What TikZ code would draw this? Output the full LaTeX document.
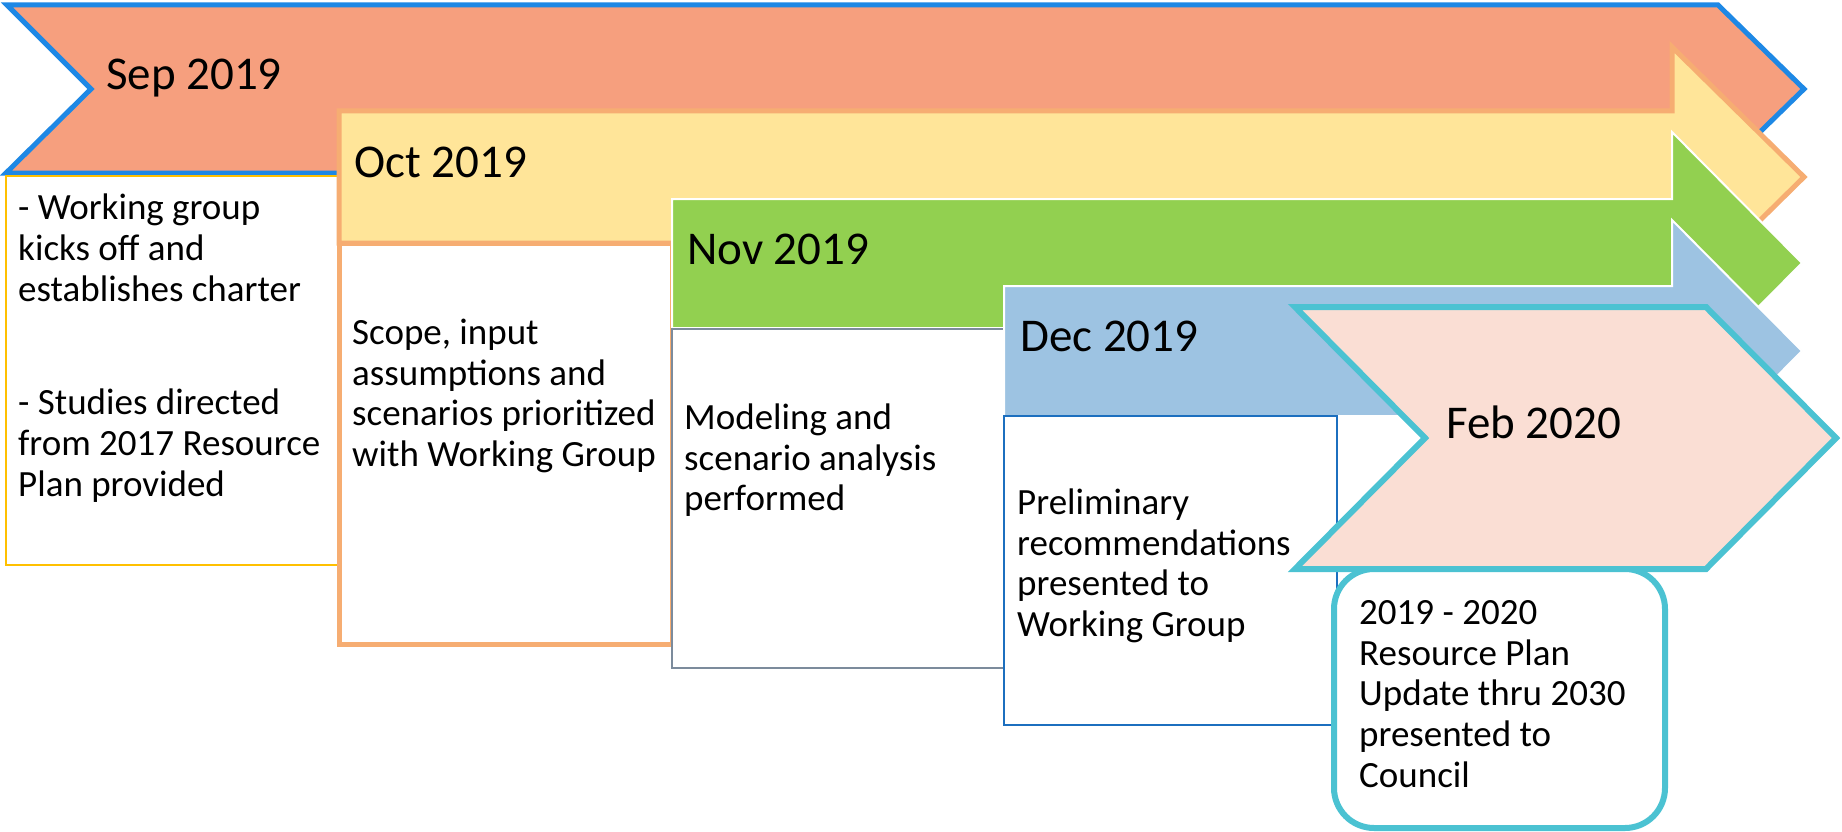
\documentclass[tikz,border=0pt]{standalone}
\usepackage{fontspec}
\setmainfont{Carlito}
\definecolor{sepfill}{HTML}{F69F7E}
\definecolor{sepline}{HTML}{1E88E5}
\definecolor{octfill}{HTML}{FFE599}
\definecolor{octline}{HTML}{F6AD72}
\definecolor{novfill}{HTML}{92D050}
\definecolor{decfill}{HTML}{9DC3E2}
\definecolor{febfill}{HTML}{FADED4}
\definecolor{febline}{HTML}{4BC2D2}
\definecolor{sepbox}{HTML}{FFC000}
\definecolor{novbox}{HTML}{7C8B9C}
\definecolor{decbox}{HTML}{1C6FBF}
\tikzset{
  lbl/.style={anchor=base west, inner sep=0pt, font=\fontsize{47}{50}\selectfont},
  body/.style={anchor=north west, inner sep=0pt, align=left, font=\fontsize{37}{40.8}\selectfont},
  band/.style={line join=miter},
  infobox/.style={fill=white, line join=miter},
}
\begin{document}
\begin{tikzpicture}[x=1pt,y=-1pt]
\useasboundingbox (0,0) rectangle (1842,832);
\fill[white] (0,0) rectangle (1842,832);
% Sep
\draw[band, fill=sepfill, draw=sepline, line width=5pt]
  (7,5) -- (1718,5) -- (1804,89) -- (1718,173) -- (6,173) -- (91,89) -- cycle;
\draw[infobox, draw=sepbox, line width=2pt] (6,176) rectangle (338,565);
% Oct
\draw[band, fill=octfill, draw=octline, line width=5pt]
  (339,111) -- (1672,111) -- (1672,47) -- (1804,177) -- (1672,307) -- (1672,243) -- (339,243) -- cycle;
\draw[infobox, draw=octline, line width=5pt] (339,243) rectangle (672,644);
% Nov
\draw[band, fill=novfill, draw=white, line width=2pt]
  (672,199) -- (1672,199) -- (1672,132) -- (1802,263) -- (1672,394) -- (1672,328) -- (672,328) -- cycle;
\draw[infobox, draw=novbox, line width=2pt] (672,329) rectangle (1004,668);
% Dec
\draw[band, fill=decfill, draw=white, line width=2pt]
  (1004,286) -- (1672,286) -- (1672,220) -- (1802,351) -- (1672,482) -- (1672,416) -- (1004,416) -- cycle;
\draw[infobox, draw=decbox, line width=2pt] (1004,416) rectangle (1337,725);
% Feb
\draw[band, fill=febfill, draw=febline, line width=6pt]
  (1295,307) -- (1706,307) -- (1836,438) -- (1706,569) -- (1295,569) -- (1425,438) -- cycle;
\draw[infobox, draw=febline, line width=6pt, rounded corners=40pt] (1334,569) rectangle (1665,828);
% labels
\node[lbl] (sep) at (106,90) {Sep 2019};
\node[lbl] (oct) at (354,177) {Oct 2019};
\node[lbl] (nov) at (687,264) {Nov 2019};
\node[lbl] (dec) at (1020,351) {Dec 2019};
\node[lbl] (feb) at (1446,438) {Feb 2020};
% texts
\node[body] (septxtA) at (18,191) {\strut- Working group\\kicks off and\\establishes charter};
\node[body] (septxtB) at (18,386) {\strut- Studies directed\\from 2017 Resource\\Plan provided};
\node[body] (octtxt) at (352,315.5) {\strut Scope, input\\assumptions and\\scenarios prioritized\\with Working Group};
\node[body] (novtxt) at (684,400.5) {\strut Modeling and\\scenario analysis\\performed};
\node[body] (dectxt) at (1017,485.5) {\strut Preliminary\\recommendations\\presented to\\Working Group};
\node[body] (febtxt) at (1359,595.5) {\strut 2019 - 2020\\Resource Plan\\Update thru 2030\\presented to\\Council};
\end{tikzpicture}
\end{document}
